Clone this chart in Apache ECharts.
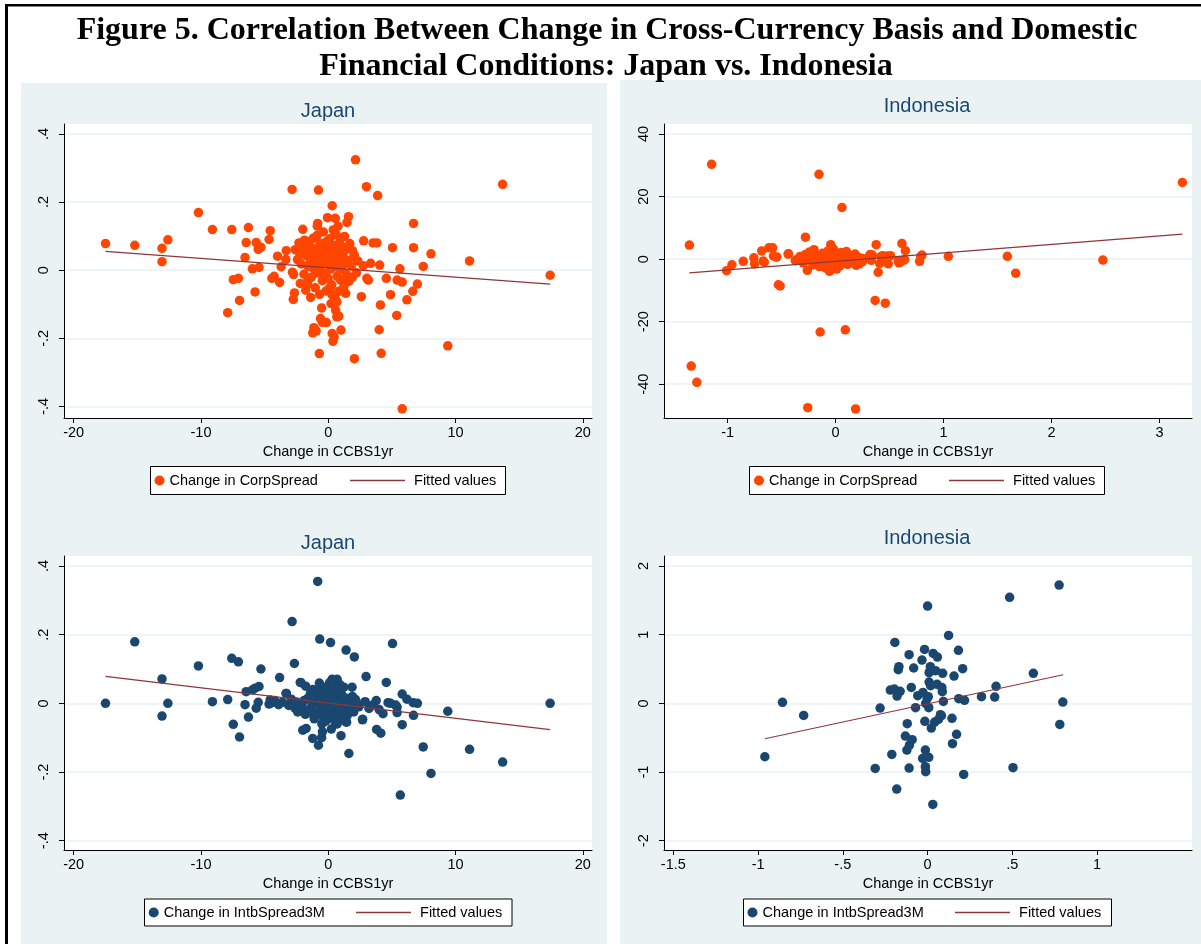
<!DOCTYPE html>
<html>
<head>
<meta charset="utf-8">
<script src="https://cdn.jsdelivr.net/npm/echarts@6/dist/echarts.min.js"></script>
<style>
  html, body { margin: 0; padding: 0; background: #fff; }
  #chart { width: 1201px; height: 944px; }
</style>
</head>
<body>
<div id="chart"></div>
<script>
// ---- data: [change in CCBS1yr, change in spread] ----
const jpCorp = [
  [-17.5,0.078],[-15.2,0.073],[-13.06,0.064],[-13.06,0.025],[-12.6,0.089],[-10.2,0.169],[-9.1,0.119],
  [-7.58,0.119],[-7.9,-0.125],[-7.46,-0.028],[-7.06,-0.024],[-6.97,-0.089],[-6.45,0.081],[-6.27,0.125],
  [-6.54,0.037],[-5.96,0.004],[-5.75,-0.064],[-5.66,0.081],[-5.5,0.061],[-5.44,0.008],[-5.29,0.067],
  [-4.65,0.09],[-4.56,0.116],[-4.43,-0.024],[-4.25,-0.018],[-3.98,0.041],[-3.82,-0.036],[-3.7,0.01],
  [-3.3,0.057],[-3.33,0.031],[-2.84,0.237],[-2.81,-0.006],[-2.75,-0.086],[-2.66,-0.067],[-2.72,-0.013],
  [-2.6,0.06],[-2.3,0.08],[-2.2,-0.039],[-2.0,0.12],[-1.87,0.088],[-1.77,-0.059],[-1.59,-0.029],
  [-1.38,-0.08],[-1.13,-0.169],[-1.22,-0.184],[-0.95,-0.178],[-0.86,0.129],[-0.83,0.137],[-0.77,0.235],
  [-0.7,-0.245],[-0.61,-0.142],[-0.52,-0.111],[-0.46,-0.153],[-0.15,-0.154],[-0.06,0.154],[0.31,0.189],
  [0.31,-0.186],[0.37,-0.209],[0.46,-0.196],[0.55,0.152],[0.67,-0.137],[0.83,-0.135],[0.77,0.129],
  [1.0,-0.176],[1.47,0.14],[1.59,0.157],[2.05,-0.26],[2.14,0.324],[2.05,0.044],[1.9,0.057],[2.6,-0.078],
  [2.78,0.086],[2.75,0.013],[3.0,0.245],[3.03,-0.024],[3.15,-0.029],[3.33,0.02],[3.52,0.08],[3.82,0.08],
  [3.88,0.219],[4.0,-0.175],[4.04,0.015],[4.1,-0.102],[4.16,-0.244],[4.56,-0.024],[4.89,-0.072],
  [5.05,0.066],[5.38,-0.133],[5.41,-0.029],[5.63,0.004],[5.81,-0.407],[5.81,-0.035],[6.18,-0.087],
  [6.64,-0.062],[6.7,0.137],[6.7,0.066],[7.0,-0.041],[7.46,0.011],[8.07,0.048],[9.39,-0.222],
  [11.1,0.027],[13.7,0.252],[17.43,-0.015],
  [-2.42,0.031],[-2.27,0.052],[-2.12,0.018],[-1.96,0.071],[-1.91,-0.012],[-1.78,0.043],[-1.66,0.064],
  [-1.58,0.011],[-1.61,-0.042],[-1.49,0.083],[-1.41,0.027],[-1.33,-0.021],[-1.27,0.051],[-1.18,0.094],
  [-1.09,0.002],[-1.06,0.063],[-0.98,0.022],[-1.02,-0.052],[-0.91,0.041],[-0.88,0.102],[-0.79,-0.008],
  [-0.81,0.058],[-0.72,0.033],[-0.68,-0.071],[-0.63,0.079],[-0.58,0.012],[-0.52,0.049],[-0.47,-0.031],
  [-0.41,0.021],[-0.38,0.112],[-0.31,0.062],[-0.27,-0.009],[-0.21,0.038],[-0.17,-0.061],[-0.12,0.084],
  [-0.08,0.019],[0.02,0.053],[-0.02,-0.024],[0.09,0.028],[0.12,0.092],[0.18,0.003],[0.22,0.061],
  [0.28,-0.043],[0.33,0.041],[0.38,0.072],[0.42,0.009],[0.48,0.047],[0.52,-0.082],[0.57,0.021],
  [0.63,0.104],[0.69,-0.018],[0.71,0.058],[0.78,0.032],[0.82,-0.062],[0.88,0.081],[0.93,0.004],
  [1.01,0.043],[0.97,-0.029],[1.08,0.069],[1.12,0.013],[1.19,0.051],[1.23,-0.048],[1.28,0.099],
  [1.31,0.022],[1.41,-0.011],[1.48,0.063],[1.52,0.029],[1.62,-0.033],[1.69,0.078],[1.81,0.012],
  [1.88,-0.021],[2.01,0.038],[2.21,-0.008],[2.32,0.027],[0.47,-0.101],[0.68,-0.093],[0.29,-0.072],
  [1.37,-0.068],[0.11,-0.052],[0.58,-0.118],[0.22,-0.098],[1.12,-0.061],[0.39,0.118],[-0.04,0.066]
];
const jpCorpFit = [[-17.5,0.055],[17.43,-0.041]];

const idCorp = [
  [-1.354,4.5],[-1.148,30.3],[-1.337,-34.2],[-1.285,-39.4],[-1.009,-3.7],[-0.96,-1.8],[-0.855,-0.7],
  [-0.757,0.4],[-0.75,-1.5],[-0.684,2.6],[-0.67,-0.6],[-0.618,3.6],[-0.583,3.6],[-0.576,1.0],
  [-0.545,0.7],[-0.53,-8.2],[-0.513,-8.6],[-0.436,1.7],[-0.373,-0.5],[-0.279,7.0],[-0.262,-3.6],
  [-0.258,-47.5],[-0.154,27.1],[-0.143,-23.3],[-0.045,4.6],[-0.056,-3.9],[0.01,-3.2],[0.059,16.5],
  [0.09,-22.6],[0.185,-47.9],[0.32,1.5],[0.366,-13.2],[0.376,4.6],[0.394,-4.2],[0.408,-1.4],
  [0.436,1.1],[0.46,-14.1],[0.488,-1.5],[0.509,1.1],[0.586,-1.2],[0.614,5.0],[0.628,-0.3],
  [0.646,2.7],[0.778,-0.7],[0.789,0.9],[0.8,1.3],[1.044,0.9],[1.59,0.9],[1.668,-4.5],[2.475,-0.3],
  [3.211,24.5],
  [-0.36,-0.4],[-0.33,0.8],[-0.3,-1.2],[-0.28,1.5],[-0.25,-0.3],[-0.24,2.3],[-0.22,0.5],[-0.21,-1.8],
  [-0.2,3.0],[-0.18,-0.8],[-0.17,1.2],[-0.15,-2.4],[-0.14,0.2],[-0.12,1.9],[-0.11,-1.1],[-0.1,0.7],
  [-0.08,-0.2],[-0.07,2.6],[-0.06,-1.6],[-0.04,1.0],[-0.03,-0.5],[-0.02,3.2],[-0.01,0.3],[0.0,-1.3],
  [0.01,1.7],[0.02,-0.1],[0.03,0.9],[0.04,-2.2],[0.05,2.1],[0.06,0.4],[0.07,-0.9],[0.08,1.4],
  [0.09,-0.3],[0.1,2.4],[0.11,-1.7],[0.12,0.6],[0.13,-0.6],[0.14,1.1],[0.16,-1.2],[0.17,0.2],
  [0.18,1.6],[0.19,-2.0],[0.2,0.8],[0.21,-0.4],[0.22,-1.5],[0.24,0.3],[0.25,-0.8],[-0.19,0.0],
  [-0.09,-2.9],[0.15,0.0],[-0.44,1.6],[-0.37,-0.3],[-0.66,-1.0],[-0.55,0.6],[0.34,1.3],[0.3,0.5],
  [0.33,-0.4],[0.42,0.8],[0.45,-0.6],[0.48,1.0],[0.6,-1.0],[0.58,-0.5],[0.64,-0.2]
];
const idCorpFit = [[-1.354,-4.4],[3.211,8.0]];

const jpIntb = [
  [-17.5,0],[-15.2,0.179],[-13.06,0.071],[-13.06,-0.037],[-12.6,0],[-10.2,0.109],[-9.1,0.005],
  [-7.9,0.011],[-7.58,0.131],[-7.46,-0.061],[-7.06,0.121],[-6.97,-0.098],[-6.54,-0.004],[-6.45,0.034],
  [-6.27,-0.04],[-5.96,0.039],[-5.75,0.044],[-5.66,-0.014],[-5.5,0.003],[-5.44,0.049],[-5.29,0.1],
  [-4.65,-0.002],[-4.56,0.01],[-4.43,0.002],[-3.82,0.075],[-3.3,0.029],[-2.84,0.238],[-2.66,0.116],
  [-2.2,0.061],[-1.77,0.05],[-2.0,-0.078],[-1.74,-0.073],[-1.22,-0.102],[-1.13,-0.036],[-0.83,0.355],
  [-0.77,-0.122],[-0.67,0.187],[-0.7,0.059],[-0.52,-0.1],[-0.46,-0.083],[0.18,0.177],[0.24,-0.075],
  [0.7,0.07],[1.0,-0.094],[1.22,0.047],[1.4,0.155],[1.44,-0.055],[1.62,-0.146],[1.87,0.047],
  [2.05,0.135],[2.14,0.011],[2.69,-0.048],[2.97,0.078],[3.8,-0.076],[4.13,-0.087],[4.56,0.061],
  [4.89,0],[5.05,0.174],[5.41,-0.011],[5.41,-0.027],[5.66,-0.267],[5.81,0.027],[5.81,-0.062],
  [6.18,0.012],[6.67,0.002],[6.7,-0.035],[7.0,0],[7.46,-0.127],[8.07,-0.204],[9.39,-0.023],
  [11.1,-0.134],[13.7,-0.171],[17.43,0],
  [-4.2,0.008],[-3.9,-0.004],[-3.6,0.003],[-3.31,0.029],[-3.1,-0.006],[-2.9,0.012],[-2.6,-0.015],
  [-2.5,0.004],[-2.4,-0.025],[-2.13,0.06],[-2.05,-0.01],[-1.9,0.008],[-1.8,-0.032],[-1.6,0.015],
  [-1.5,-0.02],[-1.4,0.028],[-1.3,-0.008],[-1.2,0.04],[-1.1,-0.045],[-1.0,0.005],[-0.9,0.022],
  [-0.85,-0.028],[-0.72,0.035],[-0.6,-0.012],[-0.55,0.05],[-0.45,0.008],[-0.4,-0.04],[-0.3,0.02],
  [-0.25,-0.018],[-0.15,0.045],[-0.1,0.003],[-0.05,-0.03],[0.0,0.025],[0.05,-0.008],[0.1,0.06],
  [0.15,0.012],[0.2,-0.042],[0.25,0.035],[0.3,-0.015],[0.35,0.005],[0.4,0.048],[0.45,-0.025],
  [0.5,0.018],[0.55,-0.055],[0.6,0.03],[0.65,-0.005],[0.75,0.04],[0.8,-0.035],[0.85,0.01],
  [0.95,-0.018],[1.05,0.026],[1.1,-0.045],[1.15,0.005],[1.3,-0.02],[1.45,0.015],[1.5,-0.035],
  [1.6,0.008],[1.75,-0.012],[1.9,0.02],[2.0,-0.025],[2.2,0.004],[2.4,-0.01],[2.7,-0.046],[2.9,0.005],
  [3.2,-0.015],[3.5,-0.005],[3.77,0.008],[4.0,-0.018],[4.3,-0.03],[4.7,0.002],[5.3,-0.005],
  [1.4,-0.054],[0.7,-0.06],[-0.2,-0.052],[0.3,0.07],[-0.5,-0.06],[0.9,0.055]
];
const jpIntbFit = [[-17.5,0.0786],[17.43,-0.0767]];

const idIntb = [
  [-0.96,-0.777],[-0.856,0.015],[-0.731,-0.175],[-0.309,-0.947],[-0.28,-0.068],[-0.22,0.194],
  [-0.211,-0.743],[-0.196,0.209],[-0.193,0.888],[-0.182,-1.248],[-0.18,0.107],[-0.173,0.49],
  [-0.169,0.534],[-0.162,0.175],[-0.131,-0.476],[-0.122,-0.68],[-0.12,-0.296],[-0.109,0.709],
  [-0.109,-0.942],[-0.107,-0.607],[-0.096,0.233],[-0.091,-0.529],[-0.082,0.515],[-0.071,-0.063],
  [-0.058,0.112],[-0.033,0.631],[-0.029,-0.801],[-0.027,0.16],[-0.018,0.786],[-0.016,-0.262],
  [-0.013,-0.68],[-0.013,-0.922],[-0.011,-0.995],[-0.011,0],[-0.002,0.073],[0,1.417],[0.004,0.097],
  [0.007,-0.063],[0.007,-0.786],[0.009,0.311],[0.009,0.447],[0.016,0.534],[0.018,0.257],
  [0.022,-0.359],[0.031,-1.471],[0.033,0.728],[0.042,-0.272],[0.047,0.476],[0.056,0.277],
  [0.058,0.675],[0.064,-0.233],[0.076,-0.165],[0.082,-0.18],[0.084,0.233],[0.087,0.17],[0.089,0.437],
  [0.093,0.029],[0.124,0.99],[0.144,-0.218],[0.147,-0.587],[0.156,0.398],[0.171,-0.451],[0.182,0.772],
  [0.184,0.068],[0.207,0.505],[0.213,-1.034],[0.218,0.044],[0.318,0.097],[0.396,0.092],[0.404,0.248],
  [0.484,1.544],[0.504,-0.937],[0.624,0.437],[0.776,1.723],[0.78,-0.306],[0.798,0.019]
];
const idIntbFit = [[-0.96,-0.515],[0.8,0.417]];

// tick values
const jpXTicks = [-20, -10, 0, 10, 20];
const idCorpXTicks = [-1, 0, 1, 2, 3];
const idIntbXTicks = [-1.5, -1, -0.5, 0, 0.5, 1];
const jpYTicks = [-0.4, -0.2, 0, 0.2, 0.4];
const idCorpYTicks = [-40, -20, 0, 20, 40];
const idIntbYTicks = [-2, -1, 0, 1, 2];

// ---- styling / layout ----
const ORANGE = '#ff4500';
const NAVY = '#1a476f';
const MAROON = '#90353b';
const BG = '#eaf2f3';
const SANS = '"Liberation Sans", Arial, sans-serif';
const SERIF = '"Liberation Serif", "Times New Roman", serif';

const stataNum = v => String(v).replace(/^(-?)0\./, '$1.');

const panels = [
  { title: 'Japan', tx: 328, ty: 111, left: 64, top: 124, xr: [-20.76, 20.72], yr: [-0.434, 0.429],
    xt: jpXTicks, yt: jpYTicks, data: jpCorp, fit: jpCorpFit, color: ORANGE, name: 'Change in CorpSpread',
    box: [150.5, 466.5, 355, 28], dot: 159.5, line: 350 },
  { title: 'Indonesia', tx: 927, ty: 106, left: 664, top: 124, xr: [-1.589, 3.30], yr: [-50.8, 43.2],
    xt: idCorpXTicks, yt: idCorpYTicks, data: idCorp, fit: idCorpFit, color: ORANGE, name: 'Change in CorpSpread',
    box: [749.5, 466.5, 355, 28], dot: 759, line: 949 },
  { title: 'Japan', tx: 328, ty: 543, left: 64, top: 556, xr: [-20.76, 20.72], yr: [-0.427, 0.429],
    xt: jpXTicks, yt: jpYTicks, data: jpIntb, fit: jpIntbFit, color: NAVY, name: 'Change in IntbSpread3M',
    box: [144.5, 899, 367.5, 27], dot: 153.7, line: 356 },
  { title: 'Indonesia', tx: 927, ty: 538, left: 664, top: 556, xr: [-1.555, 1.56], yr: [-2.135, 2.146],
    xt: idIntbXTicks, yt: idIntbYTicks, data: idIntb, fit: idIntbFit, color: NAVY, name: 'Change in IntbSpread3M',
    box: [743.5, 899, 368, 27], dot: 752.5, line: 955 }
];

const grid = [], xAxis = [], yAxis = [], series = [], legend = [];
const graphic = [
  { type: 'rect', z: -10, shape: { x: 21, y: 83, width: 586, height: 861 }, style: { fill: BG } },
  { type: 'rect', z: -10, shape: { x: 620, y: 80, width: 581, height: 864 }, style: { fill: BG } },
  { type: 'rect', z: 10, shape: { x: 5, y: 4, width: 1196, height: 2.5 }, style: { fill: '#000' } },
  { type: 'rect', z: 10, shape: { x: 5, y: 4, width: 3, height: 940 }, style: { fill: '#000' } },
  { type: 'text', x: 607, y: 31, style: { text: 'Figure 5. Correlation Between Change in Cross-Currency Basis and Domestic',
      align: 'center', verticalAlign: 'middle', fontFamily: SERIF, fontWeight: 'bold', fontSize: 32, fill: '#000' } },
  { type: 'text', x: 606, y: 67, style: { text: 'Financial Conditions: Japan vs. Indonesia',
      align: 'center', verticalAlign: 'middle', fontFamily: SERIF, fontWeight: 'bold', fontSize: 32, fill: '#000' } }
];

panels.forEach((p, i) => {
  grid.push({ left: p.left, top: p.top, width: 528, height: 294, show: true,
    backgroundColor: '#fff', borderWidth: 0 });
  xAxis.push({
    gridIndex: i, type: 'value', min: p.xr[0], max: p.xr[1],
    name: 'Change in CCBS1yr', nameLocation: 'middle', nameGap: 26, nameMoveOverlap: false,
    nameTextStyle: { fontFamily: SANS, fontSize: 14.5, color: '#000' },
    axisLine: { show: true, onZero: false, lineStyle: { color: '#000', width: 1 } },
    axisTick: { show: true, length: 5, customValues: p.xt, lineStyle: { color: '#000' } },
    axisLabel: { customValues: p.xt, margin: 7, fontFamily: SANS, fontSize: 14.5, color: '#000', formatter: stataNum },
    splitLine: { show: false }
  });
  yAxis.push({
    gridIndex: i, type: 'value', min: p.yr[0], max: p.yr[1],
    axisLine: { show: true, onZero: false, lineStyle: { color: '#000', width: 1 } },
    axisTick: { show: true, length: 5, customValues: p.yt, lineStyle: { color: '#000' } },
    axisLabel: { customValues: p.yt, rotate: 90, margin: 13, fontFamily: SANS, fontSize: 14.5, color: '#000', formatter: stataNum },
    splitLine: { show: true, lineStyle: { color: BG, width: 1.5 } }
  });
  series.push({
    type: 'scatter', name: p.name, xAxisIndex: i, yAxisIndex: i, data: p.data,
    symbol: 'circle', symbolSize: 9.5, itemStyle: { color: p.color, opacity: 1 }, z: 2
  });
  series.push({
    type: 'line', name: 'Fitted values', xAxisIndex: i, yAxisIndex: i, data: p.fit,
    symbol: 'none', lineStyle: { color: MAROON, width: 1.2 }, itemStyle: { color: MAROON }, z: 3
  });
  const cy = p.box[1] + p.box[3] / 2;
  legend.push({
    data: [p.name], left: p.dot - 5, top: cy - 9, padding: 0, selectedMode: false,
    itemWidth: 10, itemHeight: 10, icon: 'circle',
    textStyle: { fontFamily: SANS, fontSize: 14.5, color: '#000', lineHeight: 18 }
  });
  legend.push({
    data: [{ name: 'Fitted values', icon: 'rect', itemStyle: { color: MAROON, borderWidth: 0 } }],
    left: p.line, top: cy - 9, padding: 0, selectedMode: false,
    itemWidth: 55, itemHeight: 1.3, formatter: ' {name}',
    textStyle: { fontFamily: SANS, fontSize: 14.5, color: '#000', lineHeight: 18 }
  });
  graphic.push({ type: 'rect', z: 3, shape: { x: p.box[0], y: p.box[1], width: p.box[2], height: p.box[3] },
    style: { fill: '#fff', stroke: '#000', lineWidth: 1 } });
  graphic.push({ type: 'text', x: p.tx, y: p.ty, style: { text: p.title, align: 'center', verticalAlign: 'middle',
    fontFamily: SANS, fontSize: 20, fill: NAVY } });
});

const chart = echarts.init(document.getElementById('chart'));
chart.setOption({
  animation: false,
  backgroundColor: '#fff',
  grid, xAxis, yAxis, series, legend, graphic
});
window.addEventListener('resize', () => chart.resize());
</script>
</body>
</html>
